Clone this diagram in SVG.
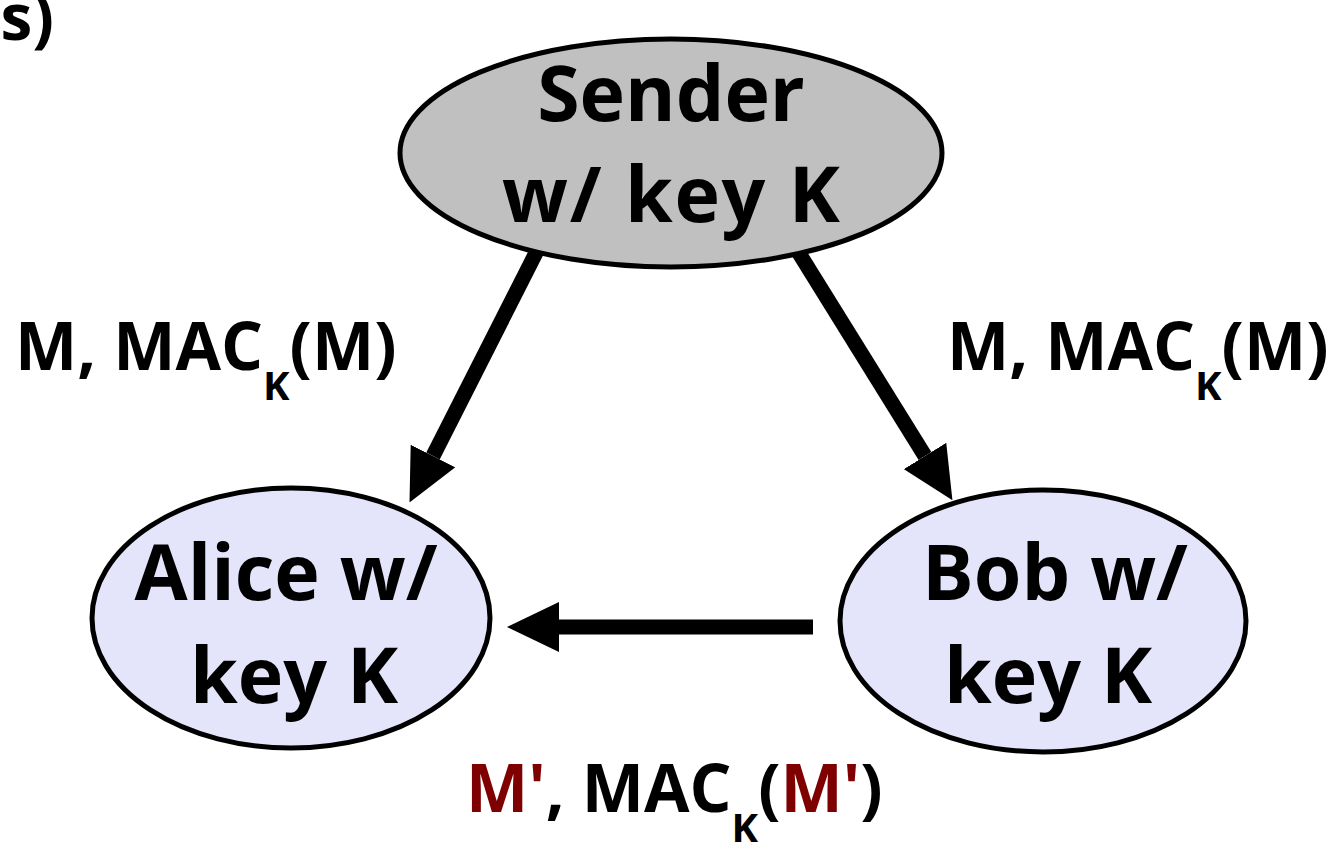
<svg xmlns="http://www.w3.org/2000/svg" width="1343" height="843" viewBox="0 0 1343 843">
<defs>
<style>
text{font-family:"Open Sans","DejaVu Sans",sans-serif;font-weight:bold;fill:#000}
.node{font-size:77px;text-anchor:middle}
.lbl{font-size:66px}
.sub{font-size:40px}
.red{fill:#7f0000}
.edge{stroke:#000;stroke-width:15;fill:none}
.shape{stroke:#000;stroke-width:5}
</style>
<marker id="ah" markerUnits="userSpaceOnUse" markerWidth="52" markerHeight="50" refX="0" refY="25" orient="auto" viewBox="0 0 52 50">
<path d="M0,0 L52,25 L0,50 z" fill="#000"/>
</marker>
</defs>
<rect width="1343" height="843" fill="#fff"/>
<text x="54" y="40" style="font-size:64px;text-anchor:end">s)</text>
<g id="connectors">
<line class="edge" x1="545" y1="235" x2="433" y2="456" marker-end="url(#ah)"/>
<line class="edge" x1="789" y1="237" x2="925" y2="456" marker-end="url(#ah)"/>
<line class="edge" x1="813" y1="627" x2="559" y2="627" marker-end="url(#ah)"/>
</g>
<g id="sender">
<ellipse class="shape" cx="671" cy="153" rx="271" ry="114" fill="#c0c0c0"/>
<text class="node" x="671" y="121">Sender</text>
<text class="node" x="671" y="222" textLength="338">w/ key K</text>
</g>
<g id="alice">
<ellipse class="shape" cx="291" cy="618" rx="199" ry="130" fill="#e4e4fa"/>
<text class="node" x="286" y="600">Alice w/</text>
<text class="node" x="294" y="703">key K</text>
</g>
<g id="bob">
<ellipse class="shape" cx="1043" cy="621" rx="203" ry="131" fill="#e4e4fa"/>
<text class="node" x="1055" y="600">Bob w/</text>
<text class="node" x="1048" y="703">key K</text>
</g>
<g id="labels">
<text class="lbl" x="15" y="370">M, MAC<tspan class="sub" dy="30">K</tspan><tspan dy="-30">(M)</tspan></text>
<text class="lbl" x="947" y="370">M, MAC<tspan class="sub" dy="30">K</tspan><tspan dy="-30">(M)</tspan></text>
<text class="lbl" x="466" y="812"><tspan class="red">M'</tspan>, MAC<tspan class="sub" dy="30">K</tspan><tspan dy="-30">(</tspan><tspan class="red">M'</tspan>)</text>
</g>
</svg>
